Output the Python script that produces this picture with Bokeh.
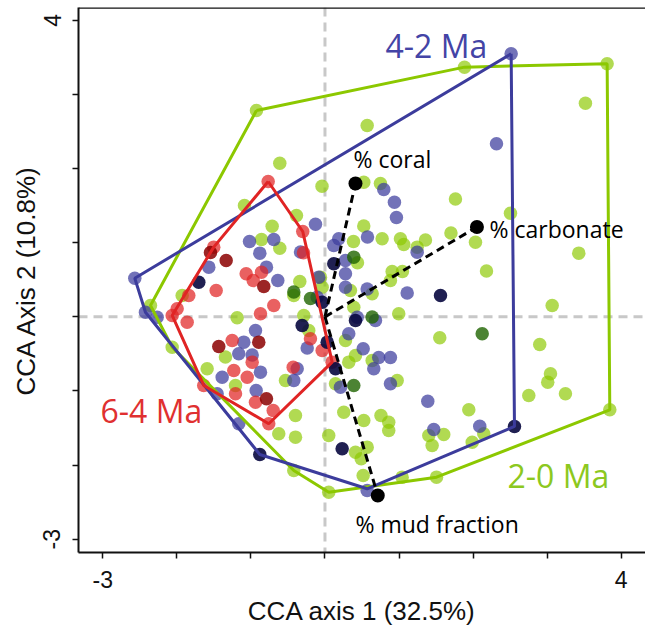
from bokeh.plotting import figure
from bokeh.models import Range1d, FixedTicker, Span, Label
from bokeh.embed import file_html
from bokeh.resources import INLINE

# ---------------- data (CCA site scores) ----------------
green_x = [-0.925, 1.884, 3.810, 3.517, 0.570, -0.610, -0.040, -1.087, -0.385, -0.713,
           -0.857, -0.610, 0.524, 0.385, 0.439, -0.340, -0.061, -0.421, -1.928, 0.524,
           0.749, 1.762, 2.505, 0.772, 1.019, 1.064, 1.245, 1.357, 1.701, 2.032,
           3.427, 2.181, 0.907, 1.046, 0.884, 0.344, 0.637, 0.389, 0.996, -0.038,
           -0.286, -1.186, -0.219, 0.277, 0.412, 0.637, 0.975, -0.533, -0.398, -0.398,
           -0.624, 0.142, 0.254, 0.524, 0.756, 0.861, 0.861, 0.051, 0.570, -1.344,
           -1.208, -2.356, -1.591, -2.063, -0.421, 0.051, 0.412, 0.489, 0.516, 1.042,
           1.506, 3.068, 1.550, 2.900, 0.321, 3.045, 3.008, 2.752, 3.247, 1.942,
           3.846, 2.144, 1.402, 1.604, 1.447, 1.988]
green_y = [2.785, 3.370, 3.416, 2.884, 2.583, 2.074, 1.764, 1.503, 1.368, 1.224,
           1.045, 0.927, 1.227, 1.018, 0.730, 0.478, 0.536, 0.289, 0.289, 1.818,
           1.800, 1.591, 1.399, 1.054, 1.054, 0.977, 0.941, 1.038, 1.132, 1.008,
           0.860, 0.619, 0.613, 0.613, 0.491, 0.356, 0.312, 0.131, 0.042, 0.401,
           0.019, -0.012, -0.184, -0.318, -0.521, -0.588, -0.858, -0.858, -1.331, -1.623,
           -1.578, -0.903, -1.286, -1.398, -1.331, -1.421, -1.533, -1.601, -1.758, -0.541,
           -0.926, 0.154, -0.700, -0.409, -2.073, -2.366, -1.826, -1.915, -2.140, -2.163,
           -2.163, 0.154, -0.282, -0.372, -0.611, -0.768, -0.881, -1.061, -1.038, -1.254,
           -1.254, -1.578, -1.601, -1.587, -1.735, -1.691]

blue_x = [2.514, 2.316, 0.794, 0.938, 0.965, -0.128, -1.019, -0.880, -0.691, -1.569,
          -0.790, -0.637, 0.119, 0.186, 0.277, 0.277, -0.084, 0.574, 0.277, 0.570,
          -0.330, -2.568, 1.245, 1.110, -0.105, 0.435, 0.682, -0.938, -1.096, -1.164,
          -0.983, -0.871, -0.929, -0.240, 0.321, 0.516, 0.726, 0.884, 0.659, 0.884,
          -0.375, 0.209, -1.164, -1.388, -1.456, -2.424, -2.266, 1.388, 2.090, 1.469,
          0.570, -0.421]
blue_y = [3.551, 2.336, 1.719, 1.548, 1.341, 1.251, 1.018, 0.860, 1.045, 0.671,
          0.671, 0.491, 0.964, 1.054, 0.761, 0.582, 0.536, 1.078, 0.401, 0.377,
          0.874, 0.522, 0.873, 0.323, 0.266, -0.004, -0.049, -0.184, -0.341, -0.498,
          -0.514, -0.746, -0.993, -0.420, -0.228, -0.430, -0.548, -0.548, -0.700, -0.903,
          -0.700, -0.949, -1.443, -0.814, -1.038, 0.063, -0.004, -1.138, -1.475, -1.520,
          -2.343, -0.858]

navy_x = [-1.704, 0.119, 1.560, -0.038, -0.308, 0.030, 0.412, 0.142, 0.232, -0.880, 2.559]
navy_y = [0.468, 0.717, 0.289, 0.198, -0.116, -0.341, -0.049, -0.700, -1.780, -1.857, -1.479]

red_x = [-0.767, -0.300, -1.502, -1.064, -0.969, -0.857, -1.469, -1.839, -1.996, -2.063,
         -1.861, -0.691, -0.871, -1.253, -0.983, -1.231, -1.050, -1.208, -0.938, -0.699,
         -0.759, -1.637, -0.196, -0.038, -0.429, 0.097, -0.290]
red_y = [1.827, 1.152, 0.941, 0.582, 0.491, 0.603, 0.356, 0.289, 0.109, 0.019,
         -0.072, 0.154, 0.042, -0.318, -0.611, -0.723, -0.814, -1.038, -1.151, -1.263,
         -1.443, -0.926, -0.296, -0.453, -0.679, -0.611, 0.865]

darkred_x = [-1.546, -1.334, -0.826, -0.894, -0.790, -1.434]
darkred_y = [0.869, 0.761, 0.410, -0.341, -1.105, -0.399]

darkgreen_x = [0.389, -0.421, -0.196, 0.637, 0.389, 2.123]
darkgreen_y = [0.806, 0.336, 0.248, -0.001, -0.926, -0.228]

# convex hulls of the three age groups
hull_20_x = [-0.925, 1.884, 3.810, 3.846, 1.506, 0.051, -0.421, -2.063, -2.356]
hull_20_y = [2.785, 3.370, 3.416, -1.254, -2.163, -2.366, -2.073, -0.409, 0.154]
hull_42_x = [2.514, 2.559, 0.570, -0.880, -2.424, -2.568]
hull_42_y = [3.551, -1.479, -2.320, -1.857, 0.063, 0.522]
hull_64_x = [-0.767, -0.300, 0.097, -0.759, -1.637, -2.063, -1.502]
hull_64_y = [1.827, 1.152, -0.611, -1.443, -0.926, 0.019, 0.941]

# environmental vectors (biplot arrows)
env_names = ["% coral", "% carbonate", "% mud fraction"]
env_x = [0.412, 2.052, 0.713]
env_y = [1.800, 1.213, -2.410]

tick_vals = [-3, -2, -1, 0, 1, 2, 3, 4]
tick_labels = {-3: "-3", 4: "4"}

# ---------------- colours ----------------
C_GREEN = "#8cc800"
C_BLUE = "#3c3c9c"
C_RED = "#e02424"

p = figure(width=645, height=629, output_backend="svg", toolbar_location=None,
           x_range=Range1d(-3.328, 4.328), y_range=Range1d(-3.18, 4.175),
           min_border_left=78, min_border_right=0, min_border_top=7, min_border_bottom=77)
p.outline_line_color = None
p.grid.visible = False
p.background_fill_color = "white"
p.border_fill_color = "white"

for ax in (p.xaxis, p.yaxis):
    ax.ticker = FixedTicker(ticks=tick_vals)
    ax.major_label_overrides = {t: tick_labels.get(t, "") for t in tick_vals}
    ax.minor_tick_line_color = None
    ax.major_tick_in = 0
    ax.major_tick_out = 6
    ax.major_tick_line_width = 1.5
    ax.axis_line_width = 2
    ax.axis_line_color = "#111111"
    ax.major_tick_line_color = "#111111"
    ax.major_label_text_font = "Liberation Sans"
    ax.major_label_text_font_size = "23px"
    ax.major_label_text_color = "#111111"
    ax.axis_label_text_font = "Liberation Sans"
    ax.axis_label_text_font_size = "26px"
    ax.axis_label_text_font_style = "normal"
    ax.axis_label_text_color = "#111111"

p.xaxis.axis_label = "CCA axis 1 (32.5%)"
p.yaxis.axis_label = "CCA Axis 2 (10.8%)"
p.xaxis.major_label_standoff = 12
p.yaxis.major_label_standoff = 12
p.yaxis.major_label_orientation = "vertical"
p.xaxis.axis_label_standoff = 5
p.yaxis.axis_label_standoff = 0

# top frame line
p.add_layout(Span(location=4.172, dimension="width", line_color="#111111", line_width=2))

# dashed zero lines
p.add_layout(Span(location=0, dimension="width", line_color="#c8c8c8", line_width=3,
                  line_dash="9 6", level="underlay"))
p.add_layout(Span(location=0, dimension="height", line_color="#c8c8c8", line_width=3,
                  line_dash="9 6", level="underlay"))

SZ = 13.5
p.scatter(green_x, green_y, size=SZ, fill_color=C_GREEN, fill_alpha=0.68, line_color=None)
p.scatter(blue_x, blue_y, size=SZ, fill_color=C_BLUE, fill_alpha=0.72, line_color=None)
p.scatter(red_x, red_y, size=SZ, fill_color=C_RED, fill_alpha=0.72, line_color=None)
p.scatter(darkgreen_x, darkgreen_y, size=SZ, fill_color="#1f6400", fill_alpha=0.8, line_color=None)
p.scatter(darkred_x, darkred_y, size=SZ, fill_color="#8b0000", fill_alpha=0.85, line_color=None)
p.scatter(navy_x, navy_y, size=SZ, fill_color="#08083f", fill_alpha=0.9, line_color=None)

# hulls
p.line(hull_20_x + hull_20_x[:1], hull_20_y + hull_20_y[:1], line_color=C_GREEN, line_width=3)
p.line(hull_42_x + hull_42_x[:1], hull_42_y + hull_42_y[:1], line_color=C_BLUE, line_width=3)
p.line(hull_64_x + hull_64_x[:1], hull_64_y + hull_64_y[:1], line_color=C_RED, line_width=3)

# environmental vectors
for ex, ey in zip(env_x, env_y):
    p.line([0, ex], [0, ey], line_color="black", line_width=3, line_dash="8 5")
p.scatter(env_x, env_y, size=14, fill_color="black", line_color=None)

FONT = "Open Sans"
lab_pos = [(0.385, 2.124), (2.221, 1.180), (0.412, -2.802)]
for name, (lx, ly) in zip(env_names, lab_pos):
    p.add_layout(Label(x=lx, y=ly, text=name, text_font=FONT, text_font_size="23px",
                       text_color="black", text_baseline="middle", text_align="left"))

group_labels = [("4-2 Ma", 0.817, 3.663, "#4444a6"),
                ("6-4 Ma", -3.031, -1.263, "#e03030"),
                ("2-0 Ma", 2.464, -2.140, "#8cc820")]
for txt, gx, gy, col in group_labels:
    p.add_layout(Label(x=gx, y=gy, text=txt, text_font=FONT, text_font_size="32px",
                       text_color=col, text_baseline="middle", text_align="left"))

open("out.html", "w").write(file_html(p, INLINE))
